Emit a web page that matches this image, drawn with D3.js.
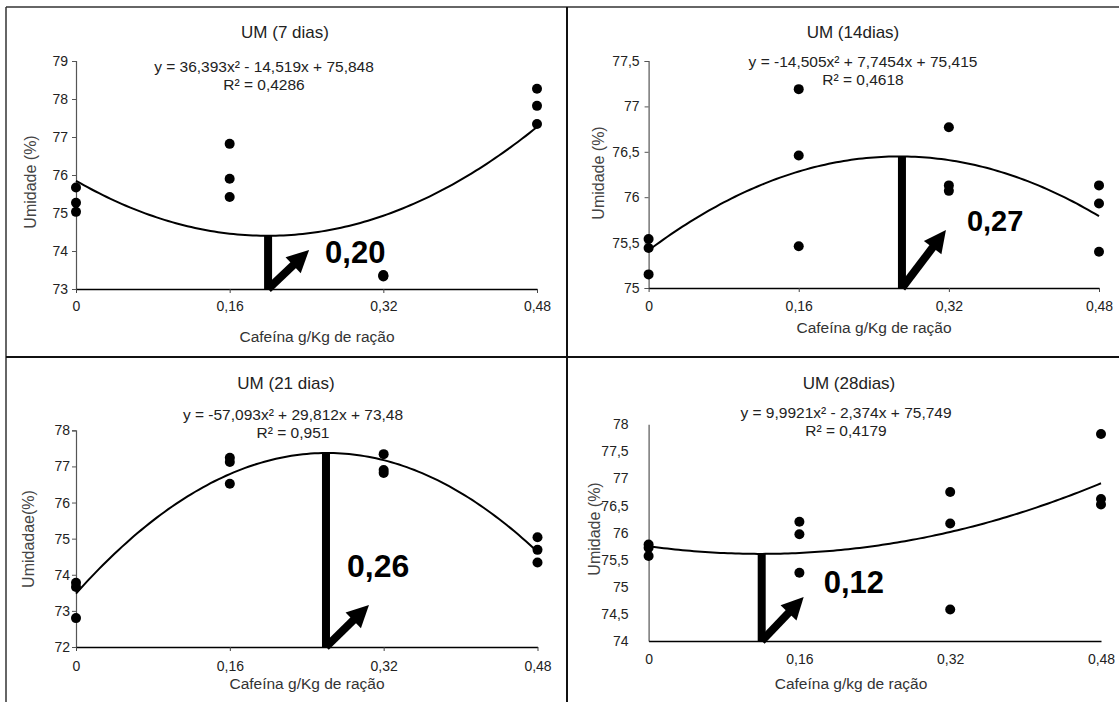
<!DOCTYPE html>
<html>
<head>
<meta charset="utf-8">
<script src="https://cdn.jsdelivr.net/npm/d3@7"></script>
<style>
  html, body { margin: 0; padding: 0; background: #fff; }
  svg { display: block; font-family: "Liberation Sans", Arial, sans-serif; }
</style>
</head>
<body>
<svg id="chart" width="1119" height="702"></svg>
<script>
// ---- data -------------------------------------------------------------
const doseTicks = [0, 0.16, 0.32, 0.48];
const doseTickLabels = ["0", "0,16", "0,32", "0,48"];

const titles = ["UM (7 dias)", "UM (14dias)", "UM (21 dias)", "UM (28dias)"];
const yTitles = ["Umidade (%)", "Umidade (%)", "Umidadae(%)", "Umidade (%)"];
const xTitles = ["Cafeína g/Kg de ração", "Cafeína g/Kg de ração",
                 "Cafeína g/Kg de ração", "Cafeína g/kg de ração"];

const equations = ["y = 36,393x² - 14,519x + 75,848",
                   "y = -14,505x² + 7,7454x + 75,415",
                   "y = -57,093x² + 29,812x + 73,48",
                   "y = 9,9921x² - 2,374x + 75,749"];
const r2Labels = ["R² = 0,4286", "R² = 0,4618", "R² = 0,951", "R² = 0,4179"];

// quadratic trend coefficients [a, b, c] for y = a·x² + b·x + c
const trendCoefs = [[36.393, -14.519, 75.848],
                    [-14.505, 7.7454, 75.415],
                    [-57.093, 29.812, 73.48],
                    [9.9921, -2.374, 75.749]];

// moisture readings (%), three replicates per caffeine dose
const umidade7  = [[75.67, 75.27, 75.03], [76.82, 75.90, 75.42], [73.33, 73.35, 73.37], [78.27, 77.82, 77.34]];
const umidade14 = [[75.54, 75.44, 75.15], [77.19, 76.46, 75.46], [76.77, 76.13, 76.07], [76.13, 75.93, 75.40]];
const umidade21 = [[73.78, 73.66, 72.80], [77.24, 77.12, 76.52], [77.34, 76.90, 76.82], [75.04, 74.69, 74.34]];
const umidade28 = [[75.78, 75.72, 75.57], [76.20, 75.97, 75.26], [76.75, 76.17, 74.58], [77.82, 76.62, 76.52]];
const seriesByPanel = [umidade7, umidade14, umidade21, umidade28];

const yDomains = [[73, 79], [75, 77.5], [72, 78], [74, 78]];
const yTicks = [[73, 74, 75, 76, 77, 78, 79],
                [75, 75.5, 76, 76.5, 77, 77.5],
                [72, 73, 74, 75, 76, 77, 78],
                [74, 74.5, 75, 75.5, 76, 76.5, 77, 77.5, 78]];
const yTickLabels = [["73", "74", "75", "76", "77", "78", "79"],
                     ["75", "75,5", "76", "76,5", "77", "77,5"],
                     ["72", "73", "74", "75", "76", "77", "78"],
                     ["74", "74,5", "75", "75,5", "76", "76,5", "77", "77,5", "78"]];

// optimum dose marked on each curve
const optimumDose = [0.20, 0.27, 0.26, 0.12];
const optimumLabels = ["0,20", "0,27", "0,26", "0,12"];

// ---- layout -----------------------------------------------------------
const layout = [
  { x0: 76,    x1: 537,   yTop: 61,    yBot: 289, title: [285, 32],  eq: [264, 67],  r2: [264, 85],
    ylab: [30, 182], xtickY: 306, xtitle: [317, 337], tickLen: 4, tickGap: 8,
    arrow: [41, -39], label: [57, -26], labelSize: 31 },
  { x0: 648.6, x1: 1099,  yTop: 61,    yBot: 288, title: [853, 32],  eq: [863, 62],  r2: [863, 80],
    ylab: [598, 173], xtickY: 306, xtitle: [874, 328], tickLen: 4, tickGap: 9,
    arrow: [44, -58], label: [65, -57], labelSize: 29 },
  { x0: 76,    x1: 537.5, yTop: 430.3, yBot: 647, title: [286, 383], eq: [293, 415], r2: [293, 433],
    ylab: [28, 539], xtickY: 666, xtitle: [307, 684], tickLen: 4, tickGap: 6,
    arrow: [43, -42], label: [21, -70], labelSize: 32 },
  { x0: 648.6, x1: 1101,  yTop: 424.3, yBot: 641, title: [849, 383], eq: [846, 413], r2: [846, 431],
    ylab: [594, 529], xtickY: 659, xtitle: [851, 684], tickLen: 0, tickGap: 20,
    arrow: [42, -44], label: [62, -48], labelSize: 31 }
];

const svg = d3.select("#chart");

// panel frame lines
const frame = svg.append("g").attr("fill", "none");
frame.append("line").attr("x1", 6).attr("x2", 1119).attr("y1", 7).attr("y2", 7)
  .attr("stroke", "#333").attr("stroke-width", 1.5);
frame.append("line").attr("x1", 6).attr("x2", 6).attr("y1", 7).attr("y2", 702)
  .attr("stroke", "#333").attr("stroke-width", 1.5);
frame.append("line").attr("x1", 567).attr("x2", 567).attr("y1", 7).attr("y2", 702)
  .attr("stroke", "#111").attr("stroke-width", 2);
frame.append("line").attr("x1", 6).attr("x2", 1119).attr("y1", 357).attr("y2", 357)
  .attr("stroke", "#111").attr("stroke-width", 2);

layout.forEach((L, i) => {
  const g = svg.append("g");
  const x = d3.scaleLinear().domain([0, 0.48]).range([L.x0, L.x1]);
  const y = d3.scaleLinear().domain(yDomains[i]).range([L.yBot, L.yTop]);
  const [a, b, c] = trendCoefs[i];
  const trend = v => a * v * v + b * v + c;

  // y axis
  const yAxis = d3.axisLeft(y).tickValues(yTicks[i])
    .tickFormat((d, k) => yTickLabels[i][k])
    .tickSize(L.tickLen).tickPadding(L.tickGap - L.tickLen);
  const yg = g.append("g").attr("transform", `translate(${L.x0},0)`).call(yAxis);
  yg.select(".domain").attr("stroke", "#555").attr("stroke-width", 1.2);
  yg.selectAll(".tick line").attr("stroke", "#555");
  yg.selectAll(".tick text").attr("font-size", 14).attr("fill", "#222")
    .attr("font-family", "Liberation Sans, Arial, sans-serif");

  // x axis
  const xAxis = d3.axisBottom(x).tickValues(doseTicks)
    .tickFormat((d, k) => doseTickLabels[k])
    .tickSize(L.tickLen).tickSizeOuter(0);
  const xg = g.append("g").attr("transform", `translate(0,${L.yBot})`).call(xAxis);
  xg.select(".domain").attr("stroke", "#000").attr("stroke-width", 1.5);
  xg.selectAll(".tick line").attr("stroke", "#444");
  xg.selectAll(".tick text").attr("font-size", 14).attr("fill", "#222")
    .attr("font-family", "Liberation Sans, Arial, sans-serif")
    .attr("y", L.xtickY - L.yBot).attr("dy", "0.35em");

  // titles and equation text
  const txt = (pos, s, size, fill) => g.append("text")
    .attr("x", pos[0]).attr("y", pos[1]).attr("dy", "0.35em")
    .attr("text-anchor", "middle").attr("font-size", size).attr("fill", fill).text(s);
  txt(L.title, titles[i], 17, "#222");
  txt(L.eq, equations[i], 15.5, "#222");
  txt(L.r2, r2Labels[i], 15.5, "#222");
  txt(L.xtitle, xTitles[i], 15.5, "#333");
  g.append("text")
    .attr("transform", `translate(${L.ylab[0]},${L.ylab[1]}) rotate(-90)`)
    .attr("dy", "0.35em").attr("text-anchor", "middle")
    .attr("font-size", 16).attr("fill", "#444").text(yTitles[i]);

  // fitted quadratic
  const xs = d3.range(0, 0.4801, 0.004);
  g.append("path")
    .attr("d", d3.line().x(v => x(v)).y(v => y(trend(v)))(xs))
    .attr("fill", "none").attr("stroke", "#000").attr("stroke-width", 2);

  // replicate points
  const pts = [];
  seriesByPanel[i].forEach((vals, k) => vals.forEach(v => pts.push([doseTicks[k], v])));
  g.selectAll("circle.pt").data(pts).join("circle")
    .attr("class", "pt")
    .attr("cx", d => x(d[0])).attr("cy", d => y(d[1])).attr("r", 5)
    .attr("fill", "#000");

  // optimum marker: vertical bar, arrow and value
  const bx = x(optimumDose[i]);
  const topY = y(trend(optimumDose[i]));
  g.append("rect")
    .attr("x", bx - 4).attr("y", topY).attr("width", 8).attr("height", L.yBot - topY)
    .attr("fill", "#000");

  const sx = bx, sy = L.yBot;
  const tx = bx + L.arrow[0], ty = L.yBot + L.arrow[1];
  const len = Math.hypot(tx - sx, ty - sy);
  const ux = (tx - sx) / len, uy = (ty - sy) / len;
  const nx = -uy, ny = ux;
  const headLen = 22, headHalf = 11;
  const hx = tx - ux * headLen, hy = ty - uy * headLen;
  g.append("line")
    .attr("x1", sx).attr("y1", sy).attr("x2", hx + ux * 2).attr("y2", hy + uy * 2)
    .attr("stroke", "#000").attr("stroke-width", 8);
  g.append("path")
    .attr("d", `M${tx},${ty}L${hx + nx * headHalf},${hy + ny * headHalf}L${hx - nx * headHalf},${hy - ny * headHalf}Z`)
    .attr("fill", "#000");

  g.append("text")
    .attr("x", bx + L.label[0]).attr("y", L.yBot + L.label[1])
    .attr("font-size", L.labelSize).attr("font-weight", "bold").attr("fill", "#000")
    .text(optimumLabels[i]);
});
</script>
</body>
</html>
